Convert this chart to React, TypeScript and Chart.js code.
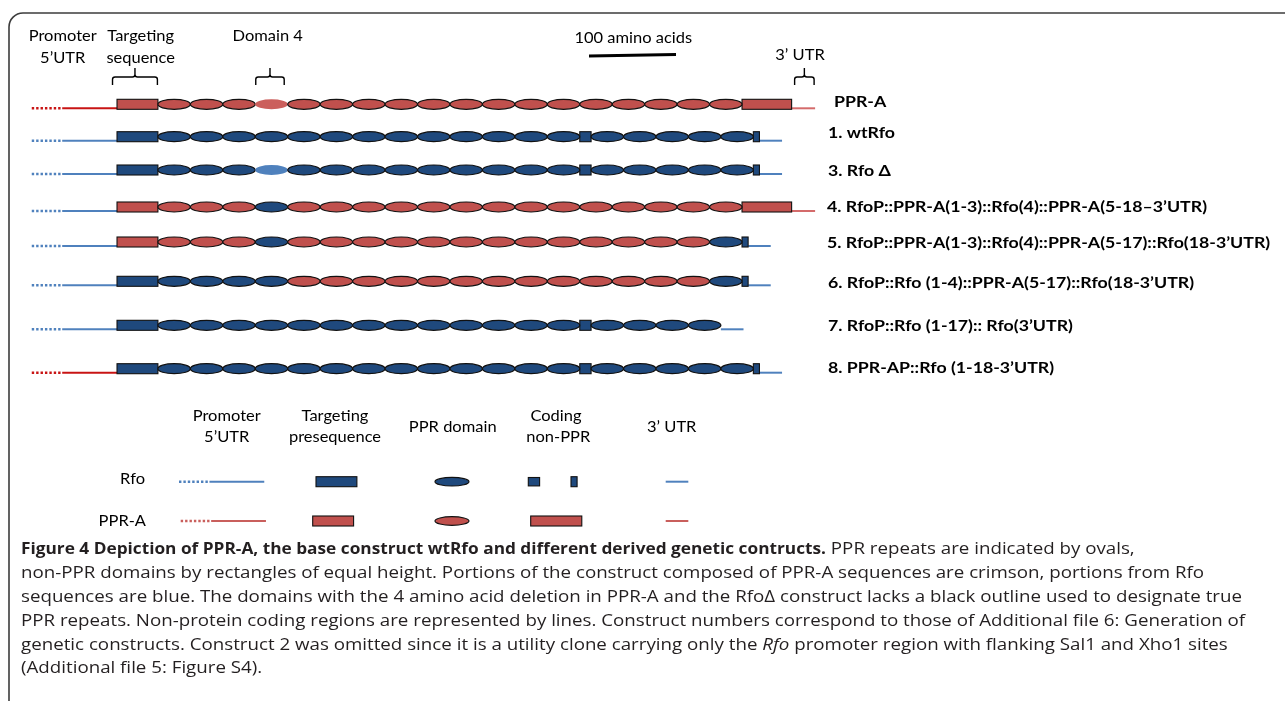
import React, { useEffect, useRef } from "react";
import { Chart, registerables } from "chart.js";
Chart.register(...registerables);

// ---------------- DATA (lengths in amino acids) ----------------
const PROMOTER_DOTTED = 35;
const PROMOTER_SOLID = 63;
const TARGETING = 47;
const PPR_DOMAIN = 37.3;
const RFO_MID_NONPPR = 13;
const RFO_CTERM = 7;
const PPRA_CTERM = 57;
const RFO_UTR3 = 26;
const PPRA_UTR3 = 27;
const SCALE_BAR_AA = 100;
const SCALE_BAR_START = 542.5;
const MID_AFTER_DOMAIN = 13;

const CONSTRUCT_LABELS = [
  "PPR-A",
  "1. wtRfo",
  "3. Rfo \u0394",
  "4. RfoP::PPR-A(1-3)::Rfo(4)::PPR-A(5-18\u20133\u2019UTR)",
  "5. RfoP::PPR-A(1-3)::Rfo(4)::PPR-A(5-17)::Rfo(18-3\u2019UTR)",
  "6. RfoP::Rfo (1-4)::PPR-A(5-17)::Rfo(18-3\u2019UTR)",
  "7. RfoP::Rfo (1-17):: Rfo(3\u2019UTR)",
  "8. PPR-AP::Rfo (1-18-3\u2019UTR)",
];
// A = PPR-A origin, R = Rfo origin, lowercase = 4 aa deletion (no outline)
const PROMOTER_ORIGIN = ["A", "R", "R", "R", "R", "R", "R", "A"];
const TARGETING_ORIGIN = ["A", "R", "R", "A", "A", "R", "R", "R"];
const DOMAIN_ORIGIN = [
  "AAAaAAAAAAAAAAAAAA",
  "RRRRRRRRRRRRRRRRRR",
  "RRRrRRRRRRRRRRRRRR",
  "AAARAAAAAAAAAAAAAA",
  "AAARAAAAAAAAAAAAAR",
  "RRRRAAAAAAAAAAAAAR",
  "RRRRRRRRRRRRRRRRR",
  "RRRRRRRRRRRRRRRRRR",
];
const HAS_MID_NONPPR = [false, true, true, false, false, false, true, true];
const CTERM_ORIGIN = ["A", "R", "R", "A", "R", "R", "-", "R"];
const UTR3_ORIGIN = ["A", "R", "R", "A", "R", "R", "R", "R"];

const TOP_HEADERS = ["Promoter", "5\u2019UTR", "Targeting", "sequence", "Domain 4", "100 amino acids", "3\u2019 UTR"];
const LEGEND_HEADERS = ["Promoter", "5\u2019UTR", "Targeting", "presequence", "PPR domain", "Coding", "non-PPR", "3\u2019 UTR"];
const LEGEND_ROWS = ["Rfo", "PPR-A"];

const CAPTION_LINES: [string, string][][] = [
  [["Figure 4 Depiction of PPR-A, the base construct wtRfo and different derived genetic contructs.", "b"], [" PPR repeats are indicated by ovals,", "r"]],
  [["non-PPR domains by rectangles of equal height. Portions of the construct composed of PPR-A sequences are crimson, portions from Rfo", "r"]],
  [["sequences are blue. The domains with the 4 amino acid deletion in PPR-A and the Rfo\u0394 construct lacks a black outline used to designate true", "r"]],
  [["PPR repeats. Non-protein coding regions are represented by lines. Construct numbers correspond to those of Additional file 6: Generation of", "r"]],
  [["genetic constructs. Construct 2 was omitted since it is a utility clone carrying only the ", "r"], ["Rfo", "i"], [" promoter region with flanking Sal1 and Xho1 sites", "r"]],
  [["(Additional file 5: Figure S4).", "r"]],
];

// ---------------- LAYOUT / STYLE ----------------
const W = 1285;
const H = 701;
const X_MIN = -134.5;
const X_MAX = 1342.5;
const ROW_Y = [104.3, 136.7, 170, 207, 242, 281.3, 325.3, 368.7];
const LABEL_Y = [102, 132.5, 170.5, 207, 243, 283, 325.5, 367.5];
const LABEL_X = [834, 828, 828, 827, 827, 828, 828, 828];
const HALF_H = 5;
const LINE_OFF = 4;

const C_PPRA = "#C0504D";
const C_RFO = "#1F497D";
const C_RFO_DEL = "#4F81BD";
const C_PPRA_DEL = "#CB5F5C";
const C_RFO_LINE = "#4F81BD";
const C_PPRA_PROM = "#C81414";
const C_PPRA_UTR = "#D46B6B";
const C_LEG_PPRA_LINE = "#C95F5C";
const OUTLINE = "#111";

const HEADER_FONT = '16px "Lato"';
const LABEL_FONT = 'bold 16px "Lato"';
const CAP_SIZE = 16.5;

type Seg = { kind: "dot" | "line" | "rect" | "ell"; a: number; b: number; fill: string; outline: boolean };

function fillFor(o: string) {
  if (o === "A") return C_PPRA;
  if (o === "R") return C_RFO;
  if (o === "a") return C_PPRA_DEL;
  return C_RFO_DEL;
}

function buildRow(i: number): Seg[] {
  const segs: Seg[] = [];
  let p = -(PROMOTER_DOTTED + PROMOTER_SOLID);
  const pc = PROMOTER_ORIGIN[i] === "A" ? C_PPRA_PROM : C_RFO_LINE;
  segs.push({ kind: "dot", a: p, b: p + PROMOTER_DOTTED, fill: pc, outline: false });
  p += PROMOTER_DOTTED;
  segs.push({ kind: "line", a: p, b: p + PROMOTER_SOLID, fill: pc, outline: false });
  p += PROMOTER_SOLID;
  segs.push({ kind: "rect", a: p, b: p + TARGETING, fill: fillFor(TARGETING_ORIGIN[i]), outline: true });
  p += TARGETING;
  const d = DOMAIN_ORIGIN[i];
  for (let k = 0; k < d.length; k++) {
    if (k === MID_AFTER_DOMAIN && HAS_MID_NONPPR[i]) {
      segs.push({ kind: "rect", a: p, b: p + RFO_MID_NONPPR, fill: C_RFO, outline: true });
      p += RFO_MID_NONPPR;
    }
    const o = d[k];
    segs.push({ kind: "ell", a: p, b: p + PPR_DOMAIN, fill: fillFor(o), outline: o === o.toUpperCase() });
    p += PPR_DOMAIN;
  }
  const ct = CTERM_ORIGIN[i];
  if (ct !== "-") {
    const len = ct === "A" ? PPRA_CTERM : RFO_CTERM;
    segs.push({ kind: "rect", a: p, b: p + len, fill: fillFor(ct), outline: true });
    p += len;
  }
  const u = UTR3_ORIGIN[i];
  const ulen = u === "A" ? PPRA_UTR3 : RFO_UTR3;
  segs.push({ kind: "line", a: p, b: p + ulen, fill: u === "A" ? C_PPRA_UTR : C_RFO_LINE, outline: false });
  return segs;
}

function drawRect(ctx: CanvasRenderingContext2D, x0: number, x1: number, cy: number, hh: number, fill: string, outline: boolean) {
  ctx.fillStyle = fill;
  ctx.fillRect(x0, cy - hh, x1 - x0, hh * 2);
  if (outline) {
    ctx.strokeStyle = OUTLINE;
    ctx.lineWidth = 1.1;
    ctx.strokeRect(x0, cy - hh, x1 - x0, hh * 2);
  }
}
function drawEll(ctx: CanvasRenderingContext2D, x0: number, x1: number, cy: number, hh: number, fill: string, outline: boolean) {
  ctx.beginPath();
  ctx.ellipse((x0 + x1) / 2, cy, (x1 - x0) / 2, hh, 0, 0, Math.PI * 2);
  ctx.fillStyle = fill;
  ctx.fill();
  if (outline) {
    ctx.strokeStyle = OUTLINE;
    ctx.lineWidth = 1.2;
    ctx.stroke();
  }
}
function drawLine(ctx: CanvasRenderingContext2D, x0: number, x1: number, y: number, color: string, dotted: boolean) {
  ctx.save();
  ctx.strokeStyle = color;
  ctx.lineWidth = dotted ? 2.4 : 2;
  ctx.setLineDash(dotted ? [2.4, 2] : []);
  ctx.beginPath();
  ctx.moveTo(x0, y);
  ctx.lineTo(x1, y);
  ctx.stroke();
  ctx.restore();
}
function text(ctx: CanvasRenderingContext2D, s: string, x: number, y: number, font: string, align: CanvasTextAlign, k: number) {
  ctx.save();
  ctx.font = font;
  ctx.fillStyle = "#000";
  ctx.textAlign = align;
  ctx.textBaseline = "middle";
  ctx.translate(x, y);
  ctx.scale(k, 1);
  ctx.fillText(s, 0, 0);
  ctx.restore();
}
function brace(ctx: CanvasRenderingContext2D, x0: number, x1: number) {
  const top = 68, mid = 77, bot = 85, r = 2.5;
  const xc = (x0 + x1) / 2;
  ctx.save();
  ctx.strokeStyle = "#000";
  ctx.lineWidth = 1.4;
  ctx.beginPath();
  ctx.moveTo(x0, bot);
  ctx.lineTo(x0, mid + r);
  ctx.quadraticCurveTo(x0, mid, x0 + r, mid);
  ctx.lineTo(xc - r, mid);
  ctx.quadraticCurveTo(xc, mid, xc, mid - r);
  ctx.lineTo(xc, top);
  ctx.moveTo(xc, mid - r);
  ctx.quadraticCurveTo(xc, mid, xc + r, mid);
  ctx.lineTo(x1 - r, mid);
  ctx.quadraticCurveTo(x1, mid, x1, mid + r);
  ctx.lineTo(x1, bot);
  ctx.stroke();
  ctx.restore();
}

const diagramPlugin = {
  id: "diagram",
  beforeDraw(chart: any) {
    const ctx: CanvasRenderingContext2D = chart.ctx;
    ctx.save();
    ctx.fillStyle = "#fff";
    ctx.fillRect(0, 0, chart.width, chart.height);
    // frame (only top & left edges visible)
    ctx.strokeStyle = "#3c3c3c";
    ctx.lineWidth = 1.6;
    ctx.beginPath();
    (ctx as any).roundRect(9, 13, 1400, 760, 14);
    ctx.stroke();
    ctx.restore();
  },
  afterDraw(chart: any) {
    const ctx: CanvasRenderingContext2D = chart.ctx;
    const xs = chart.scales.x;
    const ys = chart.scales.y;
    const px = (v: number) => xs.getPixelForValue(v);
    const len = (v: number) => xs.getPixelForValue(v) - xs.getPixelForValue(0);
    ctx.save();

    // constructs
    const rows = CONSTRUCT_LABELS.map((_, i) => buildRow(i));
    rows.forEach((segs, i) => {
      const cy = ys.getPixelForValue(ROW_Y[i]);
      segs.filter((s) => s.kind === "dot" || s.kind === "line").forEach((s) =>
        drawLine(ctx, px(s.a), px(s.b), cy + LINE_OFF, s.fill, s.kind === "dot")
      );
      segs.filter((s) => s.kind === "rect").forEach((s) => drawRect(ctx, px(s.a), px(s.b), cy, HALF_H, s.fill, s.outline));
      segs.filter((s) => s.kind === "ell").forEach((s) => drawEll(ctx, px(s.a), px(s.b), cy, HALF_H, s.fill, s.outline));
    });

    // braces over PPR-A
    const r0 = rows[0];
    const tgt = r0[2];
    const dom4 = r0.filter((s) => s.kind === "ell")[3];
    const utr = r0[r0.length - 1];
    brace(ctx, px(tgt.a) - 4.5, px(tgt.b) - 0.5);
    brace(ctx, px(dom4.a) + 0.5, px(dom4.b) - 3.5);
    brace(ctx, px(utr.a) + 3, px(utr.b) - 1);

    // scale bar
    ctx.save();
    ctx.strokeStyle = "#000";
    ctx.lineWidth = 3;
    ctx.beginPath();
    ctx.moveTo(px(SCALE_BAR_START), 56);
    ctx.lineTo(px(SCALE_BAR_START + SCALE_BAR_AA), 54.6);
    ctx.stroke();
    ctx.restore();

    // header texts
    ctx.font = HEADER_FONT;
    const kh = 117.7 / ctx.measureText(TOP_HEADERS[5]).width;
    const topPos: [number, number][] = [[62.7, 36], [62.7, 58], [140.7, 36], [140.7, 58], [267.7, 36], [633.3, 38], [800, 55]];
    TOP_HEADERS.forEach((s, i) => text(ctx, s, topPos[i][0], topPos[i][1], HEADER_FONT, "center", kh));

    // construct labels
    ctx.font = LABEL_FONT;
    const kl = 380 / ctx.measureText(CONSTRUCT_LABELS[3]).width;
    CONSTRUCT_LABELS.forEach((s, i) => text(ctx, s, LABEL_X[i], LABEL_Y[i], LABEL_FONT, "left", kl));

    // legend
    const legPos: [number, number][] = [[226.7, 416], [226.7, 437], [335, 416], [335, 437], [452.7, 427], [556, 416], [558.3, 437], [671.7, 427]];
    LEGEND_HEADERS.forEach((s, i) => text(ctx, s, legPos[i][0], legPos[i][1], HEADER_FONT, "center", kh));
    text(ctx, LEGEND_ROWS[0], 145, 478.5, HEADER_FONT, "right", kh);
    text(ctx, LEGEND_ROWS[1], 146, 520.5, HEADER_FONT, "right", kh);

    const yR = 481.7, yA = 521;
    // promoter
    drawLine(ctx, 179, 179 + len(PROMOTER_DOTTED), yR, C_RFO_LINE, true);
    drawLine(ctx, 179 + len(PROMOTER_DOTTED), 179 + len(PROMOTER_DOTTED + PROMOTER_SOLID), yR, C_RFO_LINE, false);
    drawLine(ctx, 180.7, 180.7 + len(PROMOTER_DOTTED), yA, C_LEG_PPRA_LINE, true);
    drawLine(ctx, 180.7 + len(PROMOTER_DOTTED), 180.7 + len(PROMOTER_DOTTED + PROMOTER_SOLID), yA, C_LEG_PPRA_LINE, false);
    // targeting
    drawRect(ctx, 316, 316 + len(TARGETING), yR, HALF_H, C_RFO, true);
    drawRect(ctx, 312.7, 312.7 + len(TARGETING), yA, HALF_H, C_PPRA, true);
    // PPR domain
    drawEll(ctx, 435, 435 + len(PPR_DOMAIN) + 1.5, yR, 4.3, C_RFO, true);
    drawEll(ctx, 435, 435 + len(PPR_DOMAIN) + 1.5, yA, 4.3, C_PPRA, true);
    // coding non-PPR
    drawRect(ctx, 528.3, 528.3 + len(RFO_MID_NONPPR), yR, 4.2, C_RFO, true);
    drawRect(ctx, 571, 571 + len(RFO_CTERM), yR, HALF_H, C_RFO, true);
    drawRect(ctx, 530.7, 530.7 + len(PPRA_CTERM) + 1.5, yA, HALF_H, C_PPRA, true);
    // 3' UTR
    drawLine(ctx, 665.7, 665.7 + len(RFO_UTR3), yR, C_RFO_LINE, false);
    drawLine(ctx, 665.7, 665.7 + len(RFO_UTR3), yA, C_LEG_PPRA_LINE, false);

    // caption
    const fontOf = (st: string) =>
      (st === "b" ? "bold " : st === "i" ? "italic " : "") + CAP_SIZE + 'px "Open Sans"';
    const segW = (s: string, st: string) => {
      ctx.font = fontOf(st);
      return ctx.measureText(s).width;
    };
    const kc = 1183 / segW(CAPTION_LINES[1][0][0], "r");
    const kb = 805 / segW(CAPTION_LINES[0][0][0], "b");
    const capY = [549, 573, 597, 621, 645, 668.5];
    CAPTION_LINES.forEach((line, li) => {
      let x = 21;
      line.forEach(([s, st]) => {
        const k = st === "b" ? kb : kc;
        ctx.save();
        ctx.translate(x, capY[li]);
        ctx.scale(k, 1);
        ctx.fillStyle = "#231f20";
        ctx.textBaseline = "middle";
        ctx.textAlign = "left";
        ctx.font = fontOf(st);
        ctx.fillText(s, 0, 0);
        ctx.restore();
        x += segW(s, st) * k;
      });
    });

    ctx.restore();
  },
};

export default function App() {
  const ref = useRef<HTMLCanvasElement>(null);
  useEffect(() => {
    document.body.style.margin = "0";
    const chart = new Chart(ref.current as HTMLCanvasElement, {
      type: "scatter",
      data: { datasets: [] },
      options: {
        animation: false,
        responsive: false,
        events: [],
        layout: { padding: 0 },
        plugins: { legend: { display: false }, tooltip: { enabled: false }, title: { display: false } },
        scales: {
          x: { type: "linear", display: false, min: X_MIN, max: X_MAX },
          y: { type: "linear", display: false, min: 0, max: H, reverse: true },
        },
      },
      plugins: [diagramPlugin],
    });
    return () => chart.destroy();
  }, []);
  return (
    <div style={{ position: "fixed", left: 0, top: 0, width: W, height: H, background: "#fff" }}>
      <canvas ref={ref} width={W} height={H} style={{ display: "block", width: W, height: H }} />
    </div>
  );
}
